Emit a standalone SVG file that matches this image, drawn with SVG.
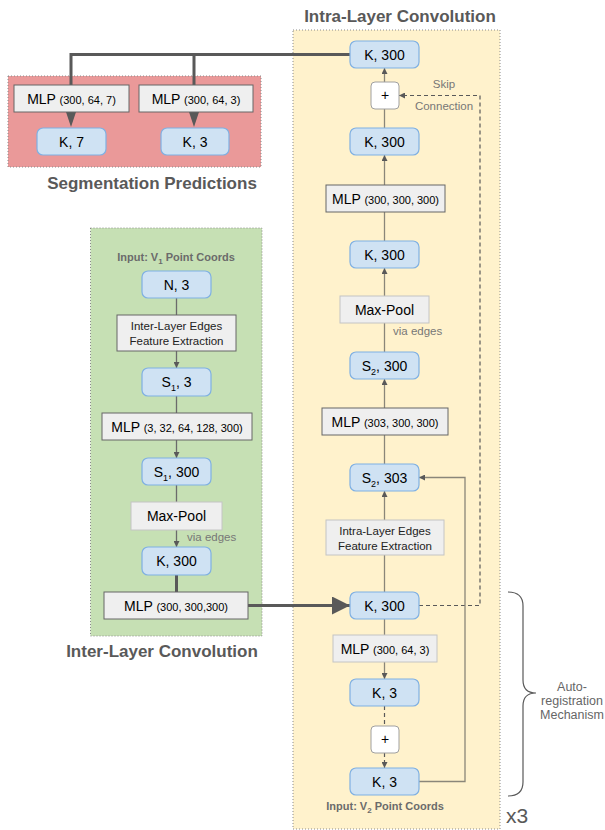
<svg xmlns="http://www.w3.org/2000/svg" width="605" height="830" viewBox="0 0 605 830">
<defs>
<style>
text{font-family:"Liberation Sans",Arial,sans-serif;}
.panel{stroke:#8a8a8a;stroke-width:1;stroke-dasharray:1 2;}
.blue{fill:#cfe2f3;stroke:#7fb0e3;stroke-width:1.2;}
.gray{fill:#efefef;stroke:#666;stroke-width:1;}
.lgray{fill:#efefef;stroke:#c4c4c4;stroke-width:1;}
.plus{fill:#fff;stroke:#a0a0a0;stroke-width:1;}
.t14{font-size:14px;fill:#000;text-anchor:middle;}
.t11{font-size:11px;}
.t12{font-size:11.5px;fill:#222;text-anchor:middle;}
.auto{font-size:12.5px;fill:#666;text-anchor:middle;}
.title{font-size:17px;font-weight:bold;fill:#595959;text-anchor:middle;}
.input{font-size:11px;font-weight:bold;fill:#6b6b6b;text-anchor:middle;}
.note{font-size:11.5px;fill:#777;}
.c{fill:none;stroke:#6b6b6b;stroke-width:1.3;}
.cy{fill:none;stroke:#8a8679;stroke-width:1.3;}
.thick{fill:none;stroke:#595959;stroke-width:3;}
.dash{fill:none;stroke:#595959;stroke-width:1.2;stroke-dasharray:4 3;}
</style>
<marker id="ah" viewBox="0 0 10 10" refX="10" refY="5" markerWidth="6" markerHeight="6" markerUnits="userSpaceOnUse" orient="auto"><path d="M0,0 L10,5 L0,10 z" fill="#595959"/></marker>
<marker id="big" viewBox="0 0 10 10" refX="10" refY="5" markerWidth="6" markerHeight="6" orient="auto"><path d="M0,0 L10,5 L0,10 z" fill="#595959"/></marker>
</defs>

<g id="panels">
<rect x="8" y="76" width="253" height="91" fill="#ea9999" class="panel"/>
<rect x="293" y="30" width="207" height="799" fill="#fff2cc" class="panel"/>
<rect x="90.5" y="228" width="171.5" height="408" fill="#c6e0b4" class="panel"/>
</g>

<g id="titles">
<text class="title" x="152" y="189">Segmentation Predictions</text>
<text class="title" x="400" y="22">Intra-Layer Convolution</text>
<text class="title" x="162" y="657">Inter-Layer Convolution</text>
<text class="input" x="176" y="261">Input: V<tspan font-size="8" dy="3">1</tspan><tspan dy="-3"> Point Coords</tspan></text>
<text class="input" x="385" y="810">Input: V<tspan font-size="8" dy="3">2</tspan><tspan dy="-3"> Point Coords</tspan></text>
<text x="506" y="823" font-size="21" fill="#595959">x3</text>
</g>

<g id="connectors">
<path class="thick" d="M350,54.5 H71 V85 M194,54.5 V85"/>
<polygon points="66,112 76,112 71,127" fill="#595959"/>
<polygon points="189,112 199,112 194,127" fill="#595959"/>
<path class="c" d="M176.5,298 V315 M176.5,396 V413 M176.5,485 V502"/>
<path class="c" d="M176.5,351 V368" marker-end="url(#ah)"/>
<path class="c" d="M176.5,440 V458" marker-end="url(#ah)"/>
<path class="c" d="M176.5,530 V547" marker-end="url(#ah)"/>
<path class="thick" d="M176.5,575 V592"/>
<path class="thick" d="M248,605.5 H350" marker-end="url(#big)"/>
<path class="cy" d="M384.5,82 V68" marker-end="url(#ah)"/>
<path class="cy" d="M384.5,109 V128"/>
<path class="cy" d="M384.5,185 V155" marker-end="url(#ah)"/>
<path class="cy" d="M384.5,212 V241"/>
<path class="cy" d="M384.5,296 V268" marker-end="url(#ah)"/>
<path class="cy" d="M384.5,323 V352"/>
<path class="cy" d="M384.5,408 V379" marker-end="url(#ah)"/>
<path class="cy" d="M384.5,435 V464"/>
<path class="cy" d="M384.5,520 V491" marker-end="url(#ah)"/>
<path class="cy" d="M384.5,555 V592"/>
<path class="cy" d="M384.5,619 V635"/>
<path class="cy" d="M384.5,662 V679" marker-end="url(#ah)"/>
<path class="dash" d="M384.5,706 V726" stroke="#8a8679"/>
<path class="dash" d="M384.5,753 V768" stroke="#8a8679" marker-end="url(#ah)"/>
<path class="dash" d="M419,605.5 H480 V95.5 H399" marker-end="url(#ah)"/>
<path class="cy" d="M419,781.5 H465 V477.5 H419" marker-end="url(#ah)"/>
<path fill="none" stroke="#595959" stroke-width="1.2" d="M508,592 Q523,592 523,606 V680 Q523,693 536,693 Q523,693 523,706 V782 Q523,796 508,796"/>
</g>

<g id="labels">
<text class="note" x="444" y="88" text-anchor="middle">Skip</text>
<text class="note" x="444" y="110" text-anchor="middle">Connection</text>
<text class="note" x="393" y="335">via edges</text>
<text class="note" x="187" y="541">via edges</text>
<text class="auto" x="572" y="691">Auto-</text>
<text class="auto" x="572" y="705">registration</text>
<text class="auto" x="572" y="719">Mechanism</text>
</g>

<g id="seg_mlp7"><rect class="gray" x="14" y="85" width="115" height="27"/><text class="t14" x="71.5" y="103.5">MLP <tspan class="t11">(300, 64, 7)</tspan></text></g>
<g id="seg_mlp3"><rect class="gray" x="139" y="85" width="114" height="27"/><text class="t14" x="196" y="103.5">MLP <tspan class="t11">(300, 64, 3)</tspan></text></g>
<g id="seg_k7"><rect class="blue" x="37" y="128" width="69" height="27" rx="6"/><text class="t14" x="71.5" y="146.5">K, 7</text></g>
<g id="seg_k3"><rect class="blue" x="161" y="128" width="68" height="27" rx="6"/><text class="t14" x="195" y="146.5">K, 3</text></g>

<g id="inter_n3"><rect class="blue" x="142" y="271" width="69" height="27" rx="6"/><text class="t14" x="176.5" y="289.5">N, 3</text></g>
<g id="inter_edges"><rect class="gray" x="117" y="315" width="119" height="36"/><text class="t12" x="176.5" y="330">Inter-Layer Edges</text><text class="t12" x="176.5" y="345">Feature Extraction</text></g>
<g id="inter_s1_3"><rect class="blue" x="142" y="368" width="69" height="28" rx="6"/><text class="t14" x="176.5" y="387">S<tspan font-size="9" dy="4">1</tspan><tspan dy="-4">, 3</tspan></text></g>
<g id="inter_mlp1"><rect class="gray" x="102" y="413" width="150" height="27"/><text class="t14" x="177" y="431.5">MLP <tspan class="t11">(3, 32, 64, 128, 300)</tspan></text></g>
<g id="inter_s1_300"><rect class="blue" x="142" y="458" width="69" height="27" rx="6"/><text class="t14" x="176.5" y="476.5">S<tspan font-size="9" dy="4">1</tspan><tspan dy="-4">, 300</tspan></text></g>
<g id="inter_maxpool"><rect class="lgray" x="131" y="502" width="91" height="28"/><text class="t14" x="176.5" y="521">Max-Pool</text></g>
<g id="inter_k300"><rect class="blue" x="142" y="547" width="69" height="28" rx="6"/><text class="t14" x="176.5" y="566">K, 300</text></g>
<g id="inter_mlp2"><rect class="gray" x="104" y="592" width="144" height="27"/><text class="t14" x="176" y="610.5">MLP <tspan class="t11">(300, 300,300)</tspan></text></g>

<g id="intra_k300_out"><rect class="blue" x="350" y="41" width="69" height="27" rx="6"/><text class="t14" x="384.5" y="59.5">K, 300</text></g>
<g id="intra_plus1"><rect class="plus" x="371" y="82" width="28" height="27" rx="4"/><text class="t14" x="385" y="100" font-size="13">+</text></g>
<g id="intra_k300_b"><rect class="blue" x="350" y="128" width="69" height="27" rx="6"/><text class="t14" x="384.5" y="146.5">K, 300</text></g>
<g id="intra_mlp3"><rect class="gray" x="326" y="185" width="119" height="27"/><text class="t14" x="385.5" y="203.5">MLP <tspan class="t11">(300, 300, 300)</tspan></text></g>
<g id="intra_k300_c"><rect class="blue" x="350" y="241" width="69" height="27" rx="6"/><text class="t14" x="384.5" y="259.5">K, 300</text></g>
<g id="intra_maxpool"><rect class="lgray" x="340" y="296" width="89" height="27"/><text class="t14" x="384.5" y="314.5">Max-Pool</text></g>
<g id="intra_s2_300"><rect class="blue" x="350" y="352" width="69" height="27" rx="6"/><text class="t14" x="384.5" y="370.5">S<tspan font-size="9" dy="4">2</tspan><tspan dy="-4">, 300</tspan></text></g>
<g id="intra_mlp2"><rect class="gray" x="322" y="408" width="126" height="27"/><text class="t14" x="385" y="426.5">MLP <tspan class="t11">(303, 300, 300)</tspan></text></g>
<g id="intra_s2_303"><rect class="blue" x="350" y="464" width="69" height="27" rx="6"/><text class="t14" x="384.5" y="482.5">S<tspan font-size="9" dy="4">2</tspan><tspan dy="-4">, 303</tspan></text></g>
<g id="intra_edges"><rect class="lgray" x="326" y="520" width="118" height="35"/><text class="t12" x="385" y="535">Intra-Layer Edges</text><text class="t12" x="385" y="550">Feature Extraction</text></g>
<g id="intra_k300_in"><rect class="blue" x="350" y="592" width="69" height="27" rx="6"/><text class="t14" x="384.5" y="610.5">K, 300</text></g>
<g id="intra_mlp1"><rect class="lgray" x="333" y="635" width="104" height="27" stroke="#aaa"/><text class="t14" x="385" y="653.5">MLP <tspan class="t11">(300, 64, 3)</tspan></text></g>
<g id="intra_k3_a"><rect class="blue" x="350" y="679" width="69" height="27" rx="6"/><text class="t14" x="384.5" y="697.5">K, 3</text></g>
<g id="intra_plus2"><rect class="plus" x="371" y="726" width="28" height="27" rx="4" stroke="#777"/><text class="t14" x="385" y="744" font-size="13">+</text></g>
<g id="intra_k3_in"><rect class="blue" x="350" y="768" width="69" height="27" rx="6"/><text class="t14" x="384.5" y="786.5">K, 3</text></g>
</svg>
